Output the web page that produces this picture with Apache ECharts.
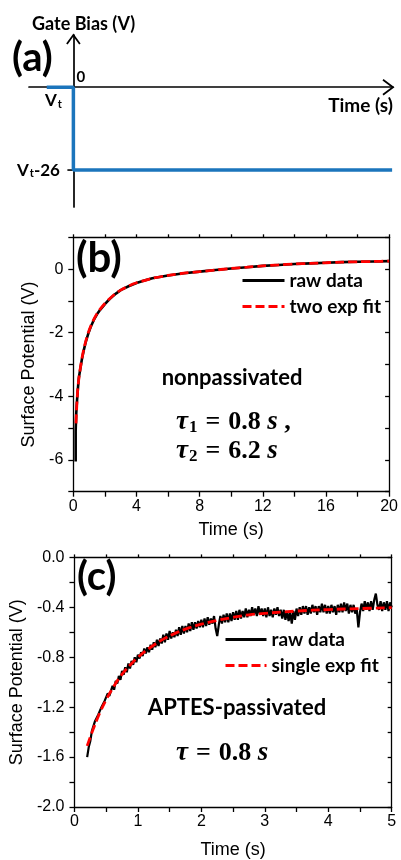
<!DOCTYPE html>
<html>
<head>
<meta charset="utf-8">
<script src="https://cdn.jsdelivr.net/npm/echarts@6/dist/echarts.min.js"></script>
<style>
html,body{margin:0;padding:0;background:#fff;}
#main{width:401px;height:860px;}
</style>
</head>
<body>
<div id="main"></div>
<script>
// ---------- Panel (a): gate bias schematic ----------
const aTime = [-0.6, 0, 0, 7.18];
const aBias = [0, 0, -26, -26];

// ---------- Panel (b): nonpassivated ----------
const bRawTime = [0.15,0.15,0.18,0.22,0.28,0.35,0.45,0.55,0.65,0.8,0.95,1.1,1.3,1.5,1.7,2.0,2.3,2.7,3.0,3.5,4.0,4.5,5.0,6.0,7.0,8.0,9.0,10,11,12,13,14,15,16,17,18,19,20];
const bRaw = [-6.05,-5.1,-4.6,-4.25,-3.82,-3.42,-3.12,-2.82,-2.58,-2.27,-2.03,-1.82,-1.6,-1.42,-1.28,-1.1,-0.94,-0.77,-0.66,-0.54,-0.44,-0.36,-0.29,-0.2,-0.13,-0.08,-0.03,0.02,0.06,0.10,0.13,0.16,0.18,0.20,0.22,0.23,0.24,0.25];
const bFitTime = [0.17,0.22,0.28,0.35,0.45,0.55,0.65,0.8,0.95,1.1,1.3,1.5,1.7,2.0,2.3,2.7,3.0,3.5,4.0,4.5,5.0,6.0,7.0,8.0,9.0,10,11,12,13,14,15,16,17,18,19,20];
const bFit = [-4.85,-4.3,-3.8,-3.45,-3.1,-2.8,-2.55,-2.25,-2.0,-1.8,-1.58,-1.40,-1.26,-1.08,-0.93,-0.76,-0.66,-0.53,-0.43,-0.36,-0.29,-0.2,-0.13,-0.08,-0.03,0.02,0.06,0.10,0.13,0.16,0.18,0.20,0.22,0.23,0.24,0.25];

// ---------- Panel (c): APTES-passivated ----------
const cRawTime = [
0.200,0.225,0.250,0.275,0.300,0.325,0.350,0.375,
0.400,0.425,0.450,0.475,0.500,0.525,0.550,0.575,
0.600,0.625,0.650,0.675,0.700,0.725,0.750,0.775,
0.800,0.825,0.850,0.875,0.900,0.925,0.950,0.975,
1.000,1.025,1.050,1.075,1.100,1.125,1.150,1.175,
1.200,1.225,1.250,1.275,1.300,1.325,1.350,1.375,
1.400,1.425,1.450,1.475,1.500,1.525,1.550,1.575,
1.600,1.625,1.650,1.675,1.700,1.725,1.750,1.775,
1.800,1.825,1.850,1.875,1.900,1.925,1.950,1.975,
2.000,2.025,2.050,2.075,2.100,2.125,2.150,2.175,
2.200,2.225,2.250,2.275,2.300,2.325,2.350,2.375,
2.400,2.425,2.450,2.475,2.500,2.525,2.550,2.575,
2.600,2.625,2.650,2.675,2.700,2.725,2.750,2.775,
2.800,2.825,2.850,2.875,2.900,2.925,2.950,2.975,
3.000,3.025,3.050,3.075,3.100,3.125,3.150,3.175,
3.200,3.225,3.250,3.275,3.300,3.325,3.350,3.375,
3.400,3.425,3.450,3.475,3.500,3.525,3.550,3.575,
3.600,3.625,3.650,3.675,3.700,3.725,3.750,3.775,
3.800,3.825,3.850,3.875,3.900,3.925,3.950,3.975,
4.000,4.025,4.050,4.075,4.100,4.125,4.150,4.175,
4.200,4.225,4.250,4.275,4.300,4.325,4.350,4.375,
4.400,4.425,4.450,4.475,4.500,4.525,4.550,4.575,
4.600,4.625,4.650,4.675,4.700,4.725,4.750,4.775,
4.800,4.825,4.850,4.875,4.900,4.925,4.950,4.975,
5.000];
const cRaw = [
-1.60,-1.52,-1.47,-1.39,-1.39,-1.31,-1.32,-1.26,
-1.26,-1.20,-1.21,-1.15,-1.16,-1.09,-1.11,-1.07,
-1.03,-1.06,-0.99,-1.01,-0.95,-0.98,-0.91,-0.94,
-0.88,-0.92,-0.85,-0.89,-0.83,-0.86,-0.80,-0.84,
-0.78,-0.81,-0.76,-0.79,-0.73,-0.77,-0.72,-0.76,
-0.70,-0.74,-0.68,-0.72,-0.66,-0.71,-0.65,-0.69,
-0.62,-0.68,-0.61,-0.66,-0.59,-0.65,-0.60,-0.64,
-0.58,-0.63,-0.56,-0.62,-0.55,-0.61,-0.55,-0.60,
-0.53,-0.59,-0.52,-0.58,-0.52,-0.57,-0.51,-0.56,
-0.50,-0.56,-0.49,-0.55,-0.48,-0.54,-0.49,-0.53,
-0.47,-0.57,-0.63,-0.54,-0.47,-0.53,-0.46,-0.52,
-0.45,-0.52,-0.45,-0.51,-0.44,-0.50,-0.43,-0.50,
-0.42,-0.49,-0.43,-0.48,-0.41,-0.48,-0.42,-0.47,
-0.40,-0.46,-0.41,-0.47,-0.39,-0.46,-0.41,-0.47,
-0.41,-0.48,-0.40,-0.47,-0.42,-0.48,-0.41,-0.46,
-0.40,-0.47,-0.42,-0.49,-0.42,-0.50,-0.43,-0.51,
-0.44,-0.53,-0.43,-0.50,-0.41,-0.47,-0.40,-0.46,
-0.39,-0.45,-0.39,-0.46,-0.40,-0.45,-0.38,-0.44,
-0.39,-0.46,-0.39,-0.44,-0.37,-0.44,-0.38,-0.45,
-0.39,-0.45,-0.38,-0.44,-0.39,-0.46,-0.38,-0.44,
-0.37,-0.44,-0.36,-0.43,-0.37,-0.45,-0.38,-0.44,
-0.38,-0.45,-0.42,-0.56,-0.44,-0.37,-0.43,-0.35,
-0.42,-0.36,-0.43,-0.35,-0.42,-0.34,-0.29,-0.38,
-0.42,-0.35,-0.43,-0.36,-0.42,-0.35,-0.43,-0.36,
-0.40];
const cFitTime = [0.2,0.3,0.4,0.5,0.6,0.7,0.8,0.9,1.0,1.2,1.4,1.6,1.8,2.0,2.25,2.5,2.75,3.0,3.5,4.0,4.5,5.0];
const cFit = [-1.51,-1.37,-1.245,-1.14,-1.05,-0.97,-0.905,-0.85,-0.80,-0.72,-0.655,-0.605,-0.565,-0.535,-0.505,-0.48,-0.46,-0.448,-0.43,-0.418,-0.41,-0.403];

const bXTicks = [0, 4, 8, 12, 16, 20];
const bYTicks = [0, -2, -4, -6];
const cXTicks = [0, 1, 2, 3, 4, 5];
const cYTicks = ['0.0', '-0.4', '-0.8', '-1.2', '-1.6', '-2.0'];

const zip = (xs, ys) => xs.map((x, i) => [x, ys[i]]);

const BLACK = '#000';
const RED = '#ff0000';
const BLUE = '#1b75bc';
const TICKFONT = 'Liberation Sans';
const LBLFONT = 'Lato';

function boxAxes(grid, opt) {
  const lineStyle = {color: BLACK, width: 1.3};
  const xs = [
    {
      gridIndex: grid, type: 'value', min: opt.xmin, max: opt.xmax, interval: opt.xint, position: 'bottom',
      axisLine: {onZero: false, lineStyle}, splitLine: {show: false},
      axisTick: {show: true, inside: false, length: 5, lineStyle},
      axisLabel: {color: BLACK, fontSize: 16, fontFamily: TICKFONT, margin: 7, formatter: v => opt.xfmt(v)},
      name: 'Time (s)', nameLocation: 'middle', nameGap: opt.xNameGap,
      nameTextStyle: {color: BLACK, fontSize: 18, fontFamily: TICKFONT}
    },
    {
      gridIndex: grid, type: 'value', min: opt.xmin, max: opt.xmax, interval: opt.xint, position: 'top',
      axisLine: {onZero: false, lineStyle}, splitLine: {show: false},
      axisTick: {show: true, inside: false, length: 3, lineStyle}, axisLabel: {show: false}
    }
  ];
  const ys = [
    {
      gridIndex: grid, type: 'value', min: opt.ymin, max: opt.ymax, interval: opt.yint, position: 'left',
      axisLine: {onZero: false, lineStyle}, splitLine: {show: false},
      axisTick: {show: true, inside: false, length: 5, lineStyle},
      axisLabel: {color: BLACK, fontSize: 16, fontFamily: TICKFONT, margin: 10, formatter: v => opt.yfmt(v)},
      name: 'Surface Potential (V)', nameLocation: 'middle', nameGap: opt.yNameGap,
      nameTextStyle: {color: BLACK, fontSize: 18, fontFamily: TICKFONT}
    },
    {
      gridIndex: grid, type: 'value', min: opt.ymin, max: opt.ymax, interval: opt.yint, position: 'right',
      axisLine: {onZero: false, lineStyle}, splitLine: {show: false},
      axisTick: {show: true, inside: true, length: 4, lineStyle}, axisLabel: {show: false}
    }
  ];
  return {xs, ys};
}

const near = (v, list) => list.some(t => Math.abs(Number(t) - v) < 1e-6);

const bAx = boxAxes(1, {
  xmin: 0, xmax: 20, xint: 2, ymin: -7, ymax: 1, yint: 1, yNameGap: 32, xNameGap: 29,
  xfmt: v => near(v, bXTicks) ? String(Math.round(v)) : '',
  yfmt: v => near(v, bYTicks) ? String(Math.round(v)) : ''
});
const cAx = boxAxes(2, {
  xmin: 0, xmax: 5, xint: 0.5, ymin: -2.0, ymax: 0, yint: 0.2, yNameGap: 42, xNameGap: 34,
  xfmt: v => near(v, cXTicks) ? String(Math.round(v)) : '',
  yfmt: v => near(v, cYTicks) ? (Math.abs(v) < 1e-9 ? '0.0' : v.toFixed(1)) : ''
});

const axisA = {color: BLACK, width: 1.7};
const legendCommon = {
  orient: 'vertical', itemHeight: 14, itemGap: 7, selectedMode: false,
  itemStyle: {opacity: 0},
  lineStyle: {width: 3},
  textStyle: {color: BLACK, fontFamily: LBLFONT, fontWeight: 'bold', fontSize: 19}
};
const option = {
  animation: false,
  backgroundColor: '#fff',
  grid: [
    {left: 29, right: 8, top: 35, bottom: 653},
    {left: 73.3, right: 9.3, top: 237.3, bottom: 368.3},
    {left: 73.3, right: 9.3, top: 557.4, bottom: 48.1}
  ],
  xAxis: [
    {gridIndex: 0, type: 'value', min: -1, max: 7.2,
      axisLine: {onZero: true, lineStyle: axisA}, axisTick: {show: false}, axisLabel: {show: false}, splitLine: {show: false}},
    ...bAx.xs, ...cAx.xs
  ],
  yAxis: [
    {gridIndex: 0, type: 'value', min: -37.6, max: 16.4,
      axisLine: {onZero: true, lineStyle: axisA}, axisTick: {show: false}, axisLabel: {show: false}, splitLine: {show: false}},
    ...bAx.ys, ...cAx.ys
  ],
  legend: [
    Object.assign({left: 236, top: 266, itemWidth: 42, data: ['raw data', 'two exp fit']}, legendCommon),
    Object.assign({left: 219, top: 625, itemWidth: 41, data: ['raw data', 'single exp fit']}, legendCommon)
  ],
  series: [
    {name: 'gate bias', type: 'line', xAxisIndex: 0, yAxisIndex: 0, data: zip(aTime, aBias),
      symbol: 'none', lineStyle: {color: BLUE, width: 3.5}, itemStyle: {color: BLUE}, z: 3},
    {name: 'raw data', type: 'line', xAxisIndex: 1, yAxisIndex: 1, data: zip(bRawTime, bRaw),
      symbol: 'none', lineStyle: {color: BLACK, width: 2.6}, itemStyle: {color: BLACK}, z: 2},
    {name: 'two exp fit', type: 'line', xAxisIndex: 1, yAxisIndex: 1, data: zip(bFitTime, bFit),
      symbol: 'none', smooth: 0.3, lineStyle: {color: RED, width: 2.8, type: [9, 4]}, itemStyle: {color: RED}, z: 3},
    {name: 'raw data', type: 'line', xAxisIndex: 3, yAxisIndex: 3, data: zip(cRawTime, cRaw),
      symbol: 'none', lineStyle: {color: BLACK, width: 2.2}, itemStyle: {color: BLACK}, z: 2},
    {name: 'single exp fit', type: 'line', xAxisIndex: 3, yAxisIndex: 3, data: zip(cFitTime, cFit),
      symbol: 'none', smooth: 0.4, lineStyle: {color: RED, width: 2.8, type: [9, 4]}, itemStyle: {color: RED}, z: 3}
  ]
};

const chart = echarts.init(document.getElementById('main'), null, {renderer: 'canvas'});
chart.setOption(option);

// decorations for panel (a), anchored through the axes
const px = p => chart.convertToPixel({xAxisIndex: 0, yAxisIndex: 0}, p);
const o = px([0, 0]);
const xe = px([7.2, 0]);
const yt = px([0, 16.4]);
const lo = px([0, -26]);

const bold = (size) => ({fontFamily: LBLFONT, fontWeight: 'bold', fontSize: size, fill: BLACK});
const mathRich = {
  it: {fontFamily: 'Liberation Serif', fontWeight: 'bold', fontStyle: 'italic', fontSize: 27, fill: BLACK},
  n: {fontFamily: 'Liberation Serif', fontWeight: 'bold', fontSize: 26, fill: BLACK},
  eq: {fontFamily: 'Liberation Serif', fontWeight: 'bold', fontSize: 26, fill: BLACK, padding: [0, 8, 0, 8]},
  sub: {fontFamily: 'Liberation Serif', fontWeight: 'bold', fontSize: 17, fill: BLACK, verticalAlign: 'bottom', padding: [11, 0, 0, 1]}
};

chart.setOption({
  graphic: [
    {type: 'polyline', shape: {points: [[xe[0] - 10, xe[1] - 7.5], [xe[0], xe[1]], [xe[0] - 10, xe[1] + 7.5]]},
      style: {stroke: BLACK, lineWidth: 1.8, fill: null}},
    {type: 'polyline', shape: {points: [[yt[0] - 6.5, yt[1] + 9], [yt[0], yt[1]], [yt[0] + 6.5, yt[1] + 9]]},
      style: {stroke: BLACK, lineWidth: 1.8, fill: null}},
    {type: 'line', shape: {x1: lo[0] - 6, y1: lo[1], x2: lo[0], y2: lo[1]}, style: {stroke: BLACK, lineWidth: 1.6}},
    {type: 'text', x: 32, y: 24, style: Object.assign({text: 'Gate Bias (V)', verticalAlign: 'middle', align: 'left'}, bold(18))},
    {type: 'text', x: 12, y: 58, style: Object.assign({text: '(a)', verticalAlign: 'middle', align: 'left'}, bold(40))},
    {type: 'text', x: o[0] + 3, y: o[1] - 10, style: Object.assign({text: '0', verticalAlign: 'middle', align: 'left'}, bold(15))},
    {type: 'text', x: 45, y: 101, style: {text: '{v|V}{s|t}', verticalAlign: 'middle', align: 'left',
      rich: {v: bold(17), s: Object.assign({verticalAlign: 'bottom', padding: [7, 0, 0, 1]}, bold(11))}}},
    {type: 'text', x: 17, y: lo[1], style: {text: '{v|V}{s|t}{v|-26}', verticalAlign: 'middle', align: 'left',
      rich: {v: bold(17), s: Object.assign({verticalAlign: 'bottom', padding: [7, 0, 0, 1]}, bold(11))}}},
    {type: 'text', x: 393, y: 106, style: Object.assign({text: 'Time (s)', verticalAlign: 'middle', align: 'right'}, bold(19))},

    {type: 'text', x: 76, y: 258, style: Object.assign({text: '(b)', verticalAlign: 'middle', align: 'left'}, bold(42))},
    {type: 'text', x: 232, y: 378, style: Object.assign({text: 'nonpassivated', verticalAlign: 'middle', align: 'center'}, bold(22))},
    {type: 'text', x: 176, y: 422, style: {text: '{it|τ}{sub|1}{eq|=}{n|0.8 }{it|s}{n| ,}', verticalAlign: 'middle', align: 'left', rich: mathRich}},
    {type: 'text', x: 176, y: 451, style: {text: '{it|τ}{sub|2}{eq|=}{n|6.2 }{it|s}', verticalAlign: 'middle', align: 'left', rich: mathRich}},

    {type: 'text', x: 77, y: 577, style: Object.assign({text: '(c)', verticalAlign: 'middle', align: 'left'}, bold(40))},
    {type: 'text', x: 237, y: 708, style: Object.assign({text: 'APTES-passivated', verticalAlign: 'middle', align: 'center'}, bold(22))},
    {type: 'text', x: 176, y: 753, style: {text: '{it|τ}{eq|=}{n|0.8 }{it|s}', verticalAlign: 'middle', align: 'left', rich: mathRich}}
  ]
});
</script>
</body>
</html>
